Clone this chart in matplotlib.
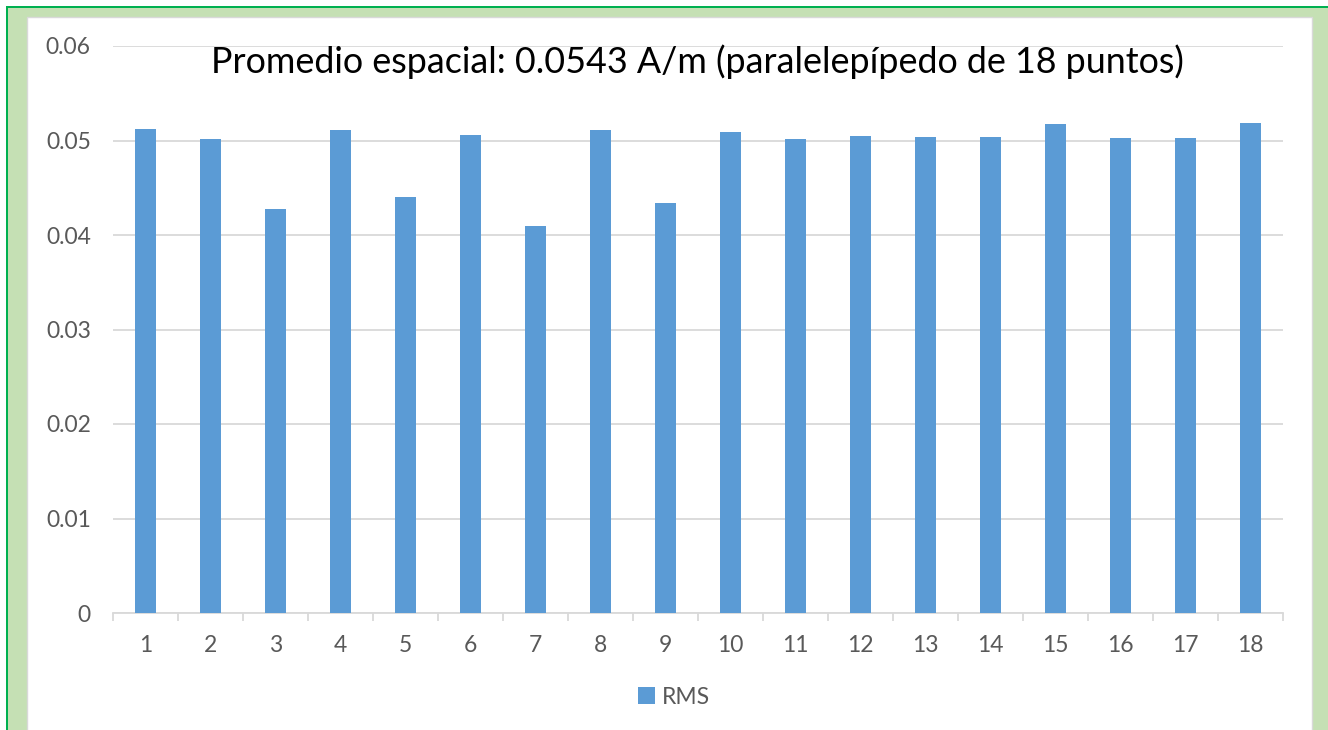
import numpy as np
import matplotlib
matplotlib.use('Agg')
import matplotlib.pyplot as plt
from matplotlib.patches import Rectangle

# data
puntos = [str(i) for i in range(1, 19)]
rms = [0.0512, 0.0502, 0.0428, 0.0511, 0.0440, 0.0506, 0.0409, 0.0511, 0.0434,
       0.0509, 0.0502, 0.0505, 0.0504, 0.0504, 0.0517, 0.0503, 0.0503, 0.0519]
yticks = [0, 0.01, 0.02, 0.03, 0.04, 0.05, 0.06]
titulo = 'Promedio espacial: 0.0543 A/m (paralelepípedo de 18 puntos)'

W, H = 1328, 730
plt.rcParams['font.family'] = ['Lato', 'DejaVu Sans']
fig = plt.figure(figsize=(W/100, H/100), dpi=100)

def px(x0, y0, x1, y1):     # pixel box -> figure coords
    return (x0/W, 1 - y1/H), (x1 - x0)/W, (y1 - y0)/H

# frame: green line, light green band, white panel
for box, fc, ec in [((6, 6, W, H), '#00B050', 'none'),
                    ((8, 8, W, H), '#C5E0B4', 'none'),
                    ((27, 17, 1312, H + 2), 'white', '#D9D9D9')]:
    xy, w, h = px(*box)
    fig.patches.append(Rectangle(xy, w, h, transform=fig.transFigure,
                                 facecolor=fc, edgecolor=ec, lw=1, zorder=-10))

ax = fig.add_axes([113/W, 1 - 613/H, (1283 - 113)/W, (613 - 46)/H])
ax.set_facecolor('none')
x = np.arange(len(rms))
ax.bar(x, rms, width=0.31, color='#5B9BD5', label='RMS', zorder=3)
ax.set_xlim(-0.5, len(rms) - 0.5)
ax.set_ylim(0, 0.06)
ax.set_yticks(yticks)
ax.set_yticklabels(['0' if v == 0 else '%.2f' % v for v in yticks])
ax.set_xticks(x)
ax.set_xticklabels(puntos)
ax.set_xticks(np.arange(-0.5, len(rms)), minor=True)
ax.grid(axis='y', color='#D9D9D9', lw=1.3, zorder=0)
for s in ['top', 'right', 'left']:
    ax.spines[s].set_visible(False)
ax.spines['bottom'].set_color('#D9D9D9')
ax.spines['bottom'].set_linewidth(1.3)
ax.tick_params(axis='y', length=0, pad=16, labelsize=16.5, labelcolor='#595959')
ax.tick_params(axis='x', which='major', length=0, pad=16, labelsize=16.5,
               labelcolor='#595959')
ax.tick_params(axis='x', which='minor', length=6, width=1.3, color='#D9D9D9')

fig.text(697/W, 1 - 62/H, titulo, ha='center', va='center', fontsize=25.8,
         color='black')
fig.legend(loc='center', bbox_to_anchor=(674/W, 1 - 697/H), frameon=False,
           handlelength=0.7, handleheight=0.7, handletextpad=0.3,
           fontsize=16.5, labelcolor='#595959')

fig.savefig('out.png', dpi=100)
